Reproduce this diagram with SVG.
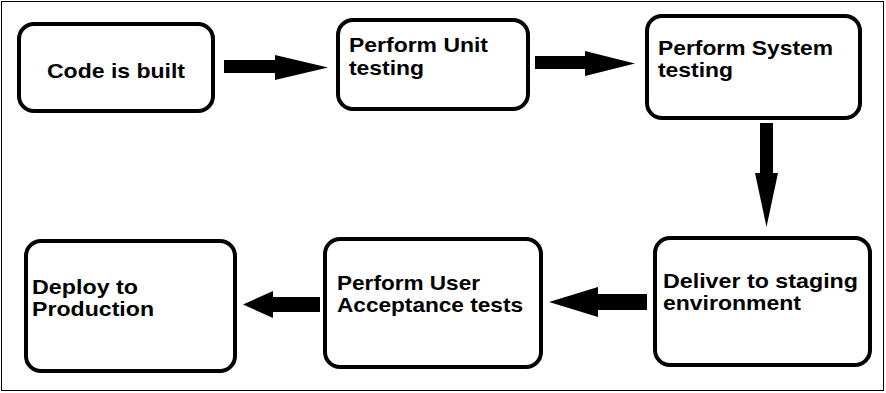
<svg xmlns="http://www.w3.org/2000/svg" width="886" height="393" viewBox="0 0 886 393">
  <style>
    .frame { fill: #ffffff; stroke: #000000; stroke-width: 1; }
    .box { fill: #ffffff; stroke: #000000; stroke-width: 4; }
    .arrow { fill: #000000; stroke: none; }
    .label { font-family: "Liberation Sans", Arial, sans-serif; font-weight: bold; font-size: 21px; fill: #000000; }
  </style>

  <!-- page frame -->
  <rect class="frame" x="1.5" y="1.5" width="882" height="389"/>

  <!-- process steps -->
  <g id="code-built">
    <rect class="box" x="19" y="24" width="194" height="87" rx="15"/>
    <text class="label" x="47" y="78" textLength="138" lengthAdjust="spacingAndGlyphs">Code is built</text>
  </g>

  <g id="unit-testing">
    <rect class="box" x="338" y="20" width="190" height="89" rx="15"/>
    <text class="label" x="349" y="52" textLength="139" lengthAdjust="spacingAndGlyphs">Perform Unit</text>
    <text class="label" x="349" y="75" textLength="75" lengthAdjust="spacingAndGlyphs">testing</text>
  </g>

  <g id="system-testing">
    <rect class="box" x="647" y="16" width="213" height="102" rx="15"/>
    <text class="label" x="658" y="55" textLength="175" lengthAdjust="spacingAndGlyphs">Perform System</text>
    <text class="label" x="658" y="77" textLength="75" lengthAdjust="spacingAndGlyphs">testing</text>
  </g>

  <g id="staging">
    <rect class="box" x="655" y="238" width="215" height="127" rx="15"/>
    <text class="label" x="663" y="288" textLength="195" lengthAdjust="spacingAndGlyphs">Deliver to staging</text>
    <text class="label" x="663" y="310" textLength="138" lengthAdjust="spacingAndGlyphs">environment</text>
  </g>

  <g id="acceptance-tests">
    <rect class="box" x="325" y="239" width="216" height="128" rx="15"/>
    <text class="label" x="337" y="290" textLength="143" lengthAdjust="spacingAndGlyphs">Perform User</text>
    <text class="label" x="337" y="312" textLength="186" lengthAdjust="spacingAndGlyphs">Acceptance tests</text>
  </g>

  <g id="production">
    <rect class="box" x="26" y="241" width="209" height="130" rx="15"/>
    <text class="label" x="32" y="294" textLength="106" lengthAdjust="spacingAndGlyphs">Deploy to</text>
    <text class="label" x="32" y="316" textLength="122" lengthAdjust="spacingAndGlyphs">Production</text>
  </g>

  <!-- block arrows between steps -->
  <g id="connectors">
    <polygon class="arrow" points="224,60 275,60 275,55 328,67.5 275,80 275,73 224,73"/>
    <polygon class="arrow" points="535,56 585,56 585,51 635,63.5 585,76 585,69 535,69"/>
    <polygon class="arrow" points="760,123 773,123 773,173 778,173 766.5,227 755,173 760,173"/>
    <polygon class="arrow" points="647,294 598,294 598,287 549,302 598,317 598,310 647,310"/>
    <polygon class="arrow" points="320,297 273,297 273,291 243,304.5 273,318 273,312 320,312"/>
  </g>
</svg>
